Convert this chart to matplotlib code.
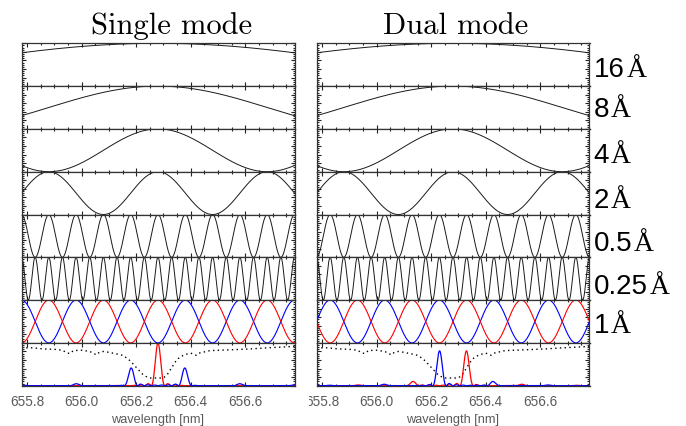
import numpy as np
import matplotlib
matplotlib.use('Agg')
import matplotlib.pyplot as plt
from matplotlib.ticker import MultipleLocator, FixedLocator
from matplotlib.transforms import Bbox

# ---------------- data ----------------
titles = ['Single mode', 'Dual mode']
stage_labels = ['16', '8', '4', '2', '0.5', '0.25', '1']
stage_fwhm_A = [16, 8, 4, 2, 0.5, 0.25]           # fixed (black) stages
single_centers = [656.28, 656.28, 656.28, 656.28, 656.28, 656.28]
dual_centers = [656.28, 656.28, 656.28, 656.28, 656.23, 656.28]
tuned_fwhm_A = 1.0                                   # red/blue stage
single_red_center, single_blue_center = 656.28, 656.18
dual_red_center, dual_blue_center = 656.33, 656.23
xlim = (655.78, 656.78)
xticks = [655.8, 656.0, 656.2, 656.4, 656.6]
xtick_labels = ['655.8', '656.0', '656.2', '656.4', '656.6']

# H-alpha spectrum (dotted)
spec_wl = [655.78, 655.82, 655.86, 655.90, 655.93, 655.945, 655.957, 655.97,
           656.00, 656.03, 656.045, 656.055, 656.065, 656.08, 656.10, 656.13,
           656.15, 656.17, 656.19, 656.21, 656.225, 656.24, 656.25, 656.30,
           656.315, 656.33, 656.347, 656.36, 656.38, 656.40, 656.41, 656.42,
           656.43, 656.47, 656.55, 656.62, 656.68, 656.73, 656.78]
spec_val = [0.885, 0.885, 0.86, 0.85, 0.83, 0.77, 0.75, 0.82,
            0.83, 0.80, 0.75, 0.72, 0.78, 0.80, 0.78, 0.74,
            0.71, 0.63, 0.50, 0.36, 0.26, 0.20, 0.18, 0.18,
            0.27, 0.42, 0.59, 0.67, 0.73, 0.76, 0.74, 0.71,
            0.76, 0.82, 0.84, 0.86, 0.885, 0.90, 0.92]

# ---------------- helpers ----------------
def stage(wl, center, fwhm_A):
    period = 2.0 * fwhm_A / 10.0
    return np.cos(np.pi * (wl - center) / period) ** 2

W, H = 686, 426
fig = plt.figure(figsize=(W / 100, H / 100), dpi=100)

wl = np.linspace(xlim[0], xlim[1], 3001)
panel_lefts = [21.5, 316.5]
panel_w = 273.0
top_px, bot_px = 43.3, 385.7
n_rows = 8
row_h = (bot_px - top_px) / n_rows
tick_gray = '#5a5a5a'


def style_axes(ax):
    ax.set_xlim(*xlim)
    ax.set_ylim(0, 1)
    ax.xaxis.set_major_locator(FixedLocator(xticks))
    ax.xaxis.set_minor_locator(MultipleLocator(0.05))
    ax.yaxis.set_major_locator(MultipleLocator(0.2))
    ax.yaxis.set_minor_locator(MultipleLocator(0.05))
    ax.tick_params(which='both', direction='in', top=True, right=True,
                   color='#222222', width=0.8)
    ax.tick_params(which='major', length=3.2)
    ax.tick_params(which='minor', length=1.6)
    ax.set_yticklabels([])
    for s in ax.spines.values():
        s.set_color('#333333')
        s.set_linewidth(0.9)


all_axes = []
for col in range(2):
    centers = single_centers if col == 0 else dual_centers
    red_c = single_red_center if col == 0 else dual_red_center
    blue_c = single_blue_center if col == 0 else dual_blue_center
    col_axes = []
    for r in range(n_rows):
        y0 = top_px + r * row_h
        ax = fig.add_axes([panel_lefts[col] / W, 1 - (y0 + row_h) / H,
                           panel_w / W, row_h / H])
        style_axes(ax)
        if r < 6:
            ax.plot(wl, stage(wl, centers[r], stage_fwhm_A[r]),
                    color='#1a1a1a', lw=0.7)
        elif r == 6:
            ax.plot(wl, stage(wl, blue_c, tuned_fwhm_A), color='blue', lw=0.8)
            ax.plot(wl, stage(wl, red_c, tuned_fwhm_A), color='red', lw=0.8)
        else:
            base = np.ones_like(wl)
            for c, f in zip(centers, stage_fwhm_A):
                base = base * stage(wl, c, f)
            red_t = base * stage(wl, red_c, tuned_fwhm_A)
            blue_t = base * stage(wl, blue_c, tuned_fwhm_A)
            ax.plot(spec_wl, spec_val, color='black', lw=1.0,
                    linestyle=(0, (1, 2.4)))
            ax.plot(wl, red_t, color='red', lw=0.9)
            ax.plot(wl, blue_t, color='blue', lw=0.9)
        if r < n_rows - 1:
            ax.set_xticklabels([])
        else:
            ax.set_xticklabels(xtick_labels)
            ax.tick_params(axis='x', which='major', pad=7.0,
                           labelsize=9.8, labelcolor=tick_gray)
            for lbl in ax.get_xticklabels():
                lbl.set_fontfamily('Liberation Sans')
            ax.set_xlabel('wavelength [nm]', fontsize=9.2, color=tick_gray,
                          family='Liberation Sans', labelpad=3.5)
        col_axes.append(ax)
    all_axes.append(col_axes)

# titles
fig.text(172 / W, 1 - 34 / H, titles[0], family='cmr10', fontsize=22,
         ha='center', va='baseline', color='black')
fig.text(456 / W, 1 - 34 / H, titles[1], family='cmr10', fontsize=22,
         ha='center', va='baseline', color='black')

# right-hand labels: number in sans + Angstrom sign in serif
label_baselines = [77, 117, 163, 208, 251, 294, 333]
num_texts = []
for lab, yb in zip(stage_labels, label_baselines):
    t = fig.text(593.5 / W, 1 - yb / H, lab, family='Liberation Sans',
                 fontsize=20, ha='left', va='baseline', color='black')
    num_texts.append(t)

fig.canvas.draw()
renderer = fig.canvas.get_renderer()
for t, yb in zip(num_texts, label_baselines):
    bb = t.get_window_extent(renderer)
    fig.text((bb.x1 + 2.0) / W, 1 - yb / H, 'Å', family='Liberation Serif',
             fontsize=20, ha='left', va='baseline', color='black')

# the first tick label of the right panel is cut on its left side
first_lbl = all_axes[1][-1].xaxis.get_major_ticks()[0].label1
first_lbl.set_clip_box(Bbox.from_extents(309, 0, W, H))
first_lbl.set_clip_on(True)

fig.savefig('out.png', dpi=100)
